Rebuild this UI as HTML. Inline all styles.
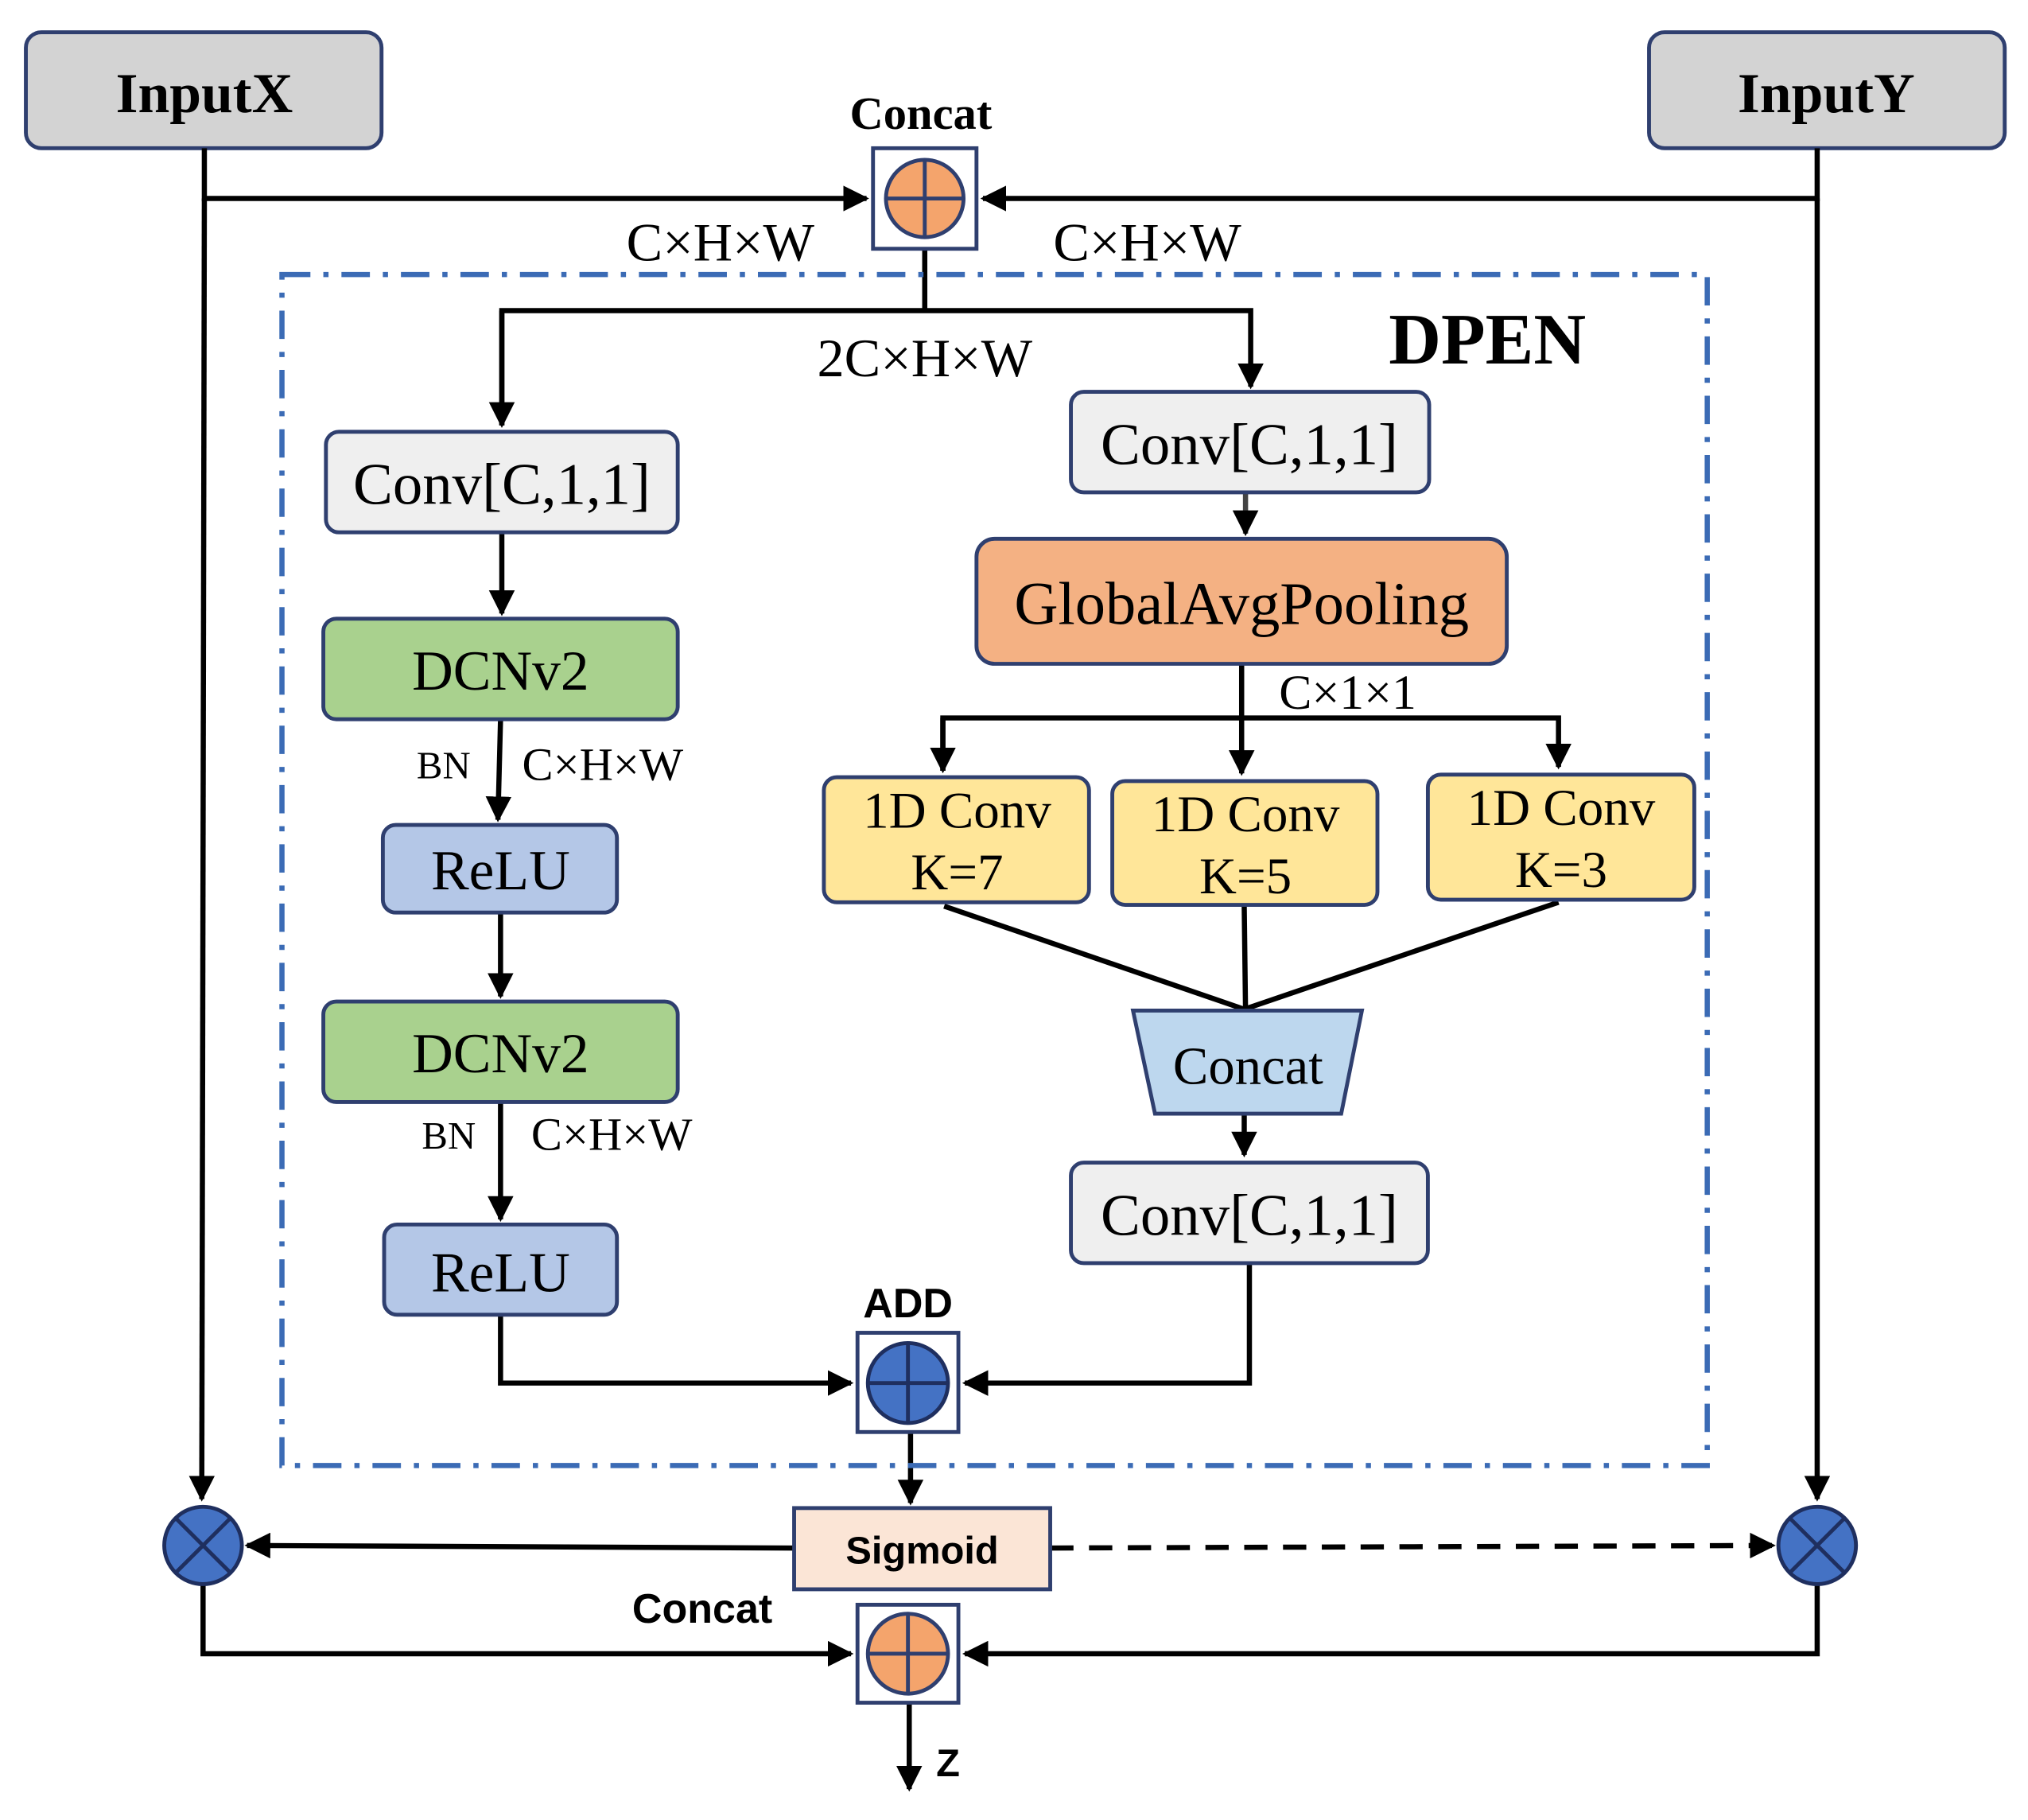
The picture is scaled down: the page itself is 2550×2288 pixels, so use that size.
<!DOCTYPE html>
<html><head><meta charset="utf-8"><style>html,body{margin:0;padding:0;background:#fff}svg{display:block}</style></head>
<body>
<svg width="2550" height="2288" viewBox="0 0 1568 1412" preserveAspectRatio="none" xmlns="http://www.w3.org/2000/svg">
<defs>
<marker id="a" viewBox="0 0 10 10" refX="9" refY="5" markerWidth="5" markerHeight="5" orient="auto-start-reverse"><path d="M0,0 L10,5 L0,10 z" fill="#000"/></marker>
</defs>
<g font-family="Liberation Serif, serif" text-anchor="middle">
<rect x="20" y="25" width="275" height="90" rx="12" fill="#d3d3d3" stroke="#2f3f6f" stroke-width="3"/>
<text x="158" y="87" font-size="44" font-weight="bold">InputX</text>
<rect x="1275" y="25" width="275" height="90" rx="12" fill="#d3d3d3" stroke="#2f3f6f" stroke-width="3"/>
<text x="1412" y="87" font-size="44" font-weight="bold">InputY</text>
<text x="712" y="100" font-size="36" font-weight="bold">Concat</text>
<g stroke="#000" stroke-width="4" fill="none">
<polyline points="158,115 158,154 670,154" marker-end="url(#a)"/>
<line x1="158" y1="154" x2="156" y2="1163" marker-end="url(#a)"/>
<polyline points="1405,115 1405,154 760,154" marker-end="url(#a)"/>
<line x1="1405" y1="154" x2="1405" y2="1163" marker-end="url(#a)"/>
<line x1="715" y1="193" x2="715" y2="241"/>
<polyline points="388,330 388,241 967,241 967,300" marker-end="url(#a)"/>
<line x1="388" y1="241" x2="388" y2="330" marker-end="url(#a)"/>
<line x1="388" y1="413" x2="388" y2="476" marker-end="url(#a)"/>
<line x1="387" y1="558" x2="385" y2="636" marker-end="url(#a)"/>
<line x1="387" y1="708" x2="387" y2="773" marker-end="url(#a)"/>
<line x1="387" y1="855" x2="387" y2="946" marker-end="url(#a)"/>
<polyline points="387,1020 387,1073 658,1073" marker-end="url(#a)"/>
<line x1="963" y1="382" x2="963" y2="414" marker-end="url(#a)" stroke="#444"/>
<line x1="960" y1="515" x2="960" y2="600" marker-end="url(#a)"/>
<polyline points="729,598 729,557 1205,557 1205,595" marker-end="url(#a)"/>
<line x1="729" y1="557" x2="729" y2="598" marker-end="url(#a)"/>
<line x1="730" y1="703" x2="962" y2="783"/>
<line x1="962" y1="703" x2="963" y2="783"/>
<line x1="1205" y1="700" x2="962" y2="783"/>
<line x1="962" y1="864" x2="962" y2="896" marker-end="url(#a)"/>
<polyline points="966,980 966,1073 746,1073" marker-end="url(#a)"/>
<line x1="704" y1="1111" x2="704" y2="1166" marker-end="url(#a)"/>
<line x1="614" y1="1201" x2="191" y2="1199" marker-end="url(#a)"/>
<line x1="812" y1="1201" x2="1371" y2="1199" stroke-dasharray="18,12" marker-end="url(#a)"/>
<polyline points="157,1229 157,1283 658,1283" marker-end="url(#a)"/>
<polyline points="1405,1229 1405,1283 746,1283" marker-end="url(#a)"/>
<line x1="703" y1="1321" x2="703" y2="1388" marker-end="url(#a)"/>
</g>
<rect x="675" y="115" width="80" height="78" fill="#fff" stroke="#2f3f6f" stroke-width="3"/>
<circle cx="715" cy="154" r="30" fill="#f4a46c" stroke="#2f3f6f" stroke-width="3"/>
<path d="M685,154 H745 M715,124 V184" stroke="#2f3f6f" stroke-width="3"/>
<text x="557" y="202" font-size="42">C×H×W</text>
<text x="887" y="202" font-size="42">C×H×W</text>
<rect x="218" y="213" width="1102" height="924" fill="none" stroke="#3b6bb5" stroke-width="4" stroke-dasharray="22,10,4,10"/>
<text x="715" y="292" font-size="42">2C×H×W</text>
<text x="1150" y="282" font-size="56" font-weight="bold">DPEN</text>
<rect x="252" y="335" width="272" height="78" rx="10" fill="#efefef" stroke="#2f3f6f" stroke-width="3"/>
<text x="388" y="391" font-size="46">Conv[C,1,1]</text>
<rect x="250" y="480" width="274" height="78" rx="10" fill="#a9d18e" stroke="#2f3f6f" stroke-width="3"/>
<text x="387" y="535" font-size="44">DCNv2</text>
<text x="343" y="604" font-size="30">BN</text>
<text x="466" y="605" font-size="36">C×H×W</text>
<rect x="296" y="640" width="181" height="68" rx="10" fill="#b4c7e7" stroke="#2f3f6f" stroke-width="3"/>
<text x="387" y="690" font-size="44">ReLU</text>
<rect x="250" y="777" width="274" height="78" rx="10" fill="#a9d18e" stroke="#2f3f6f" stroke-width="3"/>
<text x="387" y="832" font-size="44">DCNv2</text>
<text x="347" y="891" font-size="30">BN</text>
<text x="473" y="892" font-size="36">C×H×W</text>
<rect x="297" y="950" width="180" height="70" rx="10" fill="#b4c7e7" stroke="#2f3f6f" stroke-width="3"/>
<text x="387" y="1002" font-size="44">ReLU</text>
<rect x="828" y="304" width="277" height="78" rx="10" fill="#efefef" stroke="#2f3f6f" stroke-width="3"/>
<text x="966" y="360" font-size="46">Conv[C,1,1]</text>
<rect x="755" y="418" width="410" height="97" rx="14" fill="#f4b183" stroke="#2f3f6f" stroke-width="3"/>
<text x="960" y="484" font-size="47">GlobalAvgPooling</text>
<text x="1042" y="550" font-size="38">C×1×1</text>
<rect x="637" y="603" width="205" height="97" rx="10" fill="#ffe699" stroke="#2f3f6f" stroke-width="3"/>
<text x="740" y="642" font-size="40">1D Conv</text><text x="740" y="690" font-size="40">K=7</text>
<rect x="860" y="606" width="205" height="96" rx="10" fill="#ffe699" stroke="#2f3f6f" stroke-width="3"/>
<text x="963" y="645" font-size="40">1D Conv</text><text x="963" y="693" font-size="40">K=5</text>
<rect x="1104" y="601" width="206" height="97" rx="10" fill="#ffe699" stroke="#2f3f6f" stroke-width="3"/>
<text x="1207" y="640" font-size="40">1D Conv</text><text x="1207" y="688" font-size="40">K=3</text>
<polygon points="876,784 1053,784 1037,864 893,864" fill="#bdd7ee" stroke="#2f3f6f" stroke-width="3"/>
<text x="965" y="841" font-size="41">Concat</text>
<rect x="828" y="902" width="276" height="78" rx="10" fill="#efefef" stroke="#2f3f6f" stroke-width="3"/>
<text x="966" y="958" font-size="46">Conv[C,1,1]</text>
<text x="702" y="1022" font-size="32" font-weight="bold" font-family="Liberation Sans, sans-serif">ADD</text>
<rect x="663" y="1034" width="78" height="77" fill="#fff" stroke="#2f3f6f" stroke-width="3"/>
<circle cx="702" cy="1073" r="31" fill="#4472c4" stroke="#1f2f5f" stroke-width="3"/>
<path d="M671,1073 H733 M702,1042 V1104" stroke="#1f2f5f" stroke-width="3"/>
<rect x="614" y="1170" width="198" height="63" fill="#fbe5d6" stroke="#2f3f6f" stroke-width="3"/>
<text x="713" y="1213" font-size="30" font-weight="bold" font-family="Liberation Sans, sans-serif">Sigmoid</text>
<circle cx="157" cy="1199" r="30" fill="#4472c4" stroke="#1f2f5f" stroke-width="3"/>
<path d="M136,1178 L178,1220 M178,1178 L136,1220" stroke="#1f2f5f" stroke-width="3"/>
<circle cx="1405" cy="1199" r="30" fill="#4472c4" stroke="#1f2f5f" stroke-width="3"/>
<path d="M1384,1178 L1426,1220 M1426,1178 L1384,1220" stroke="#1f2f5f" stroke-width="3"/>
<text x="543" y="1259" font-size="32" font-weight="bold" font-family="Liberation Sans, sans-serif">Concat</text>
<rect x="663" y="1245" width="78" height="76" fill="#fff" stroke="#2f3f6f" stroke-width="3"/>
<circle cx="702" cy="1283" r="31" fill="#f4a46c" stroke="#2f3f6f" stroke-width="3"/>
<path d="M671,1283 H733 M702,1252 V1314" stroke="#2f3f6f" stroke-width="3"/>
<text x="733" y="1378" font-size="30" font-weight="bold" font-family="Liberation Sans, sans-serif">Z</text>
</g>
</svg>
</body></html>
